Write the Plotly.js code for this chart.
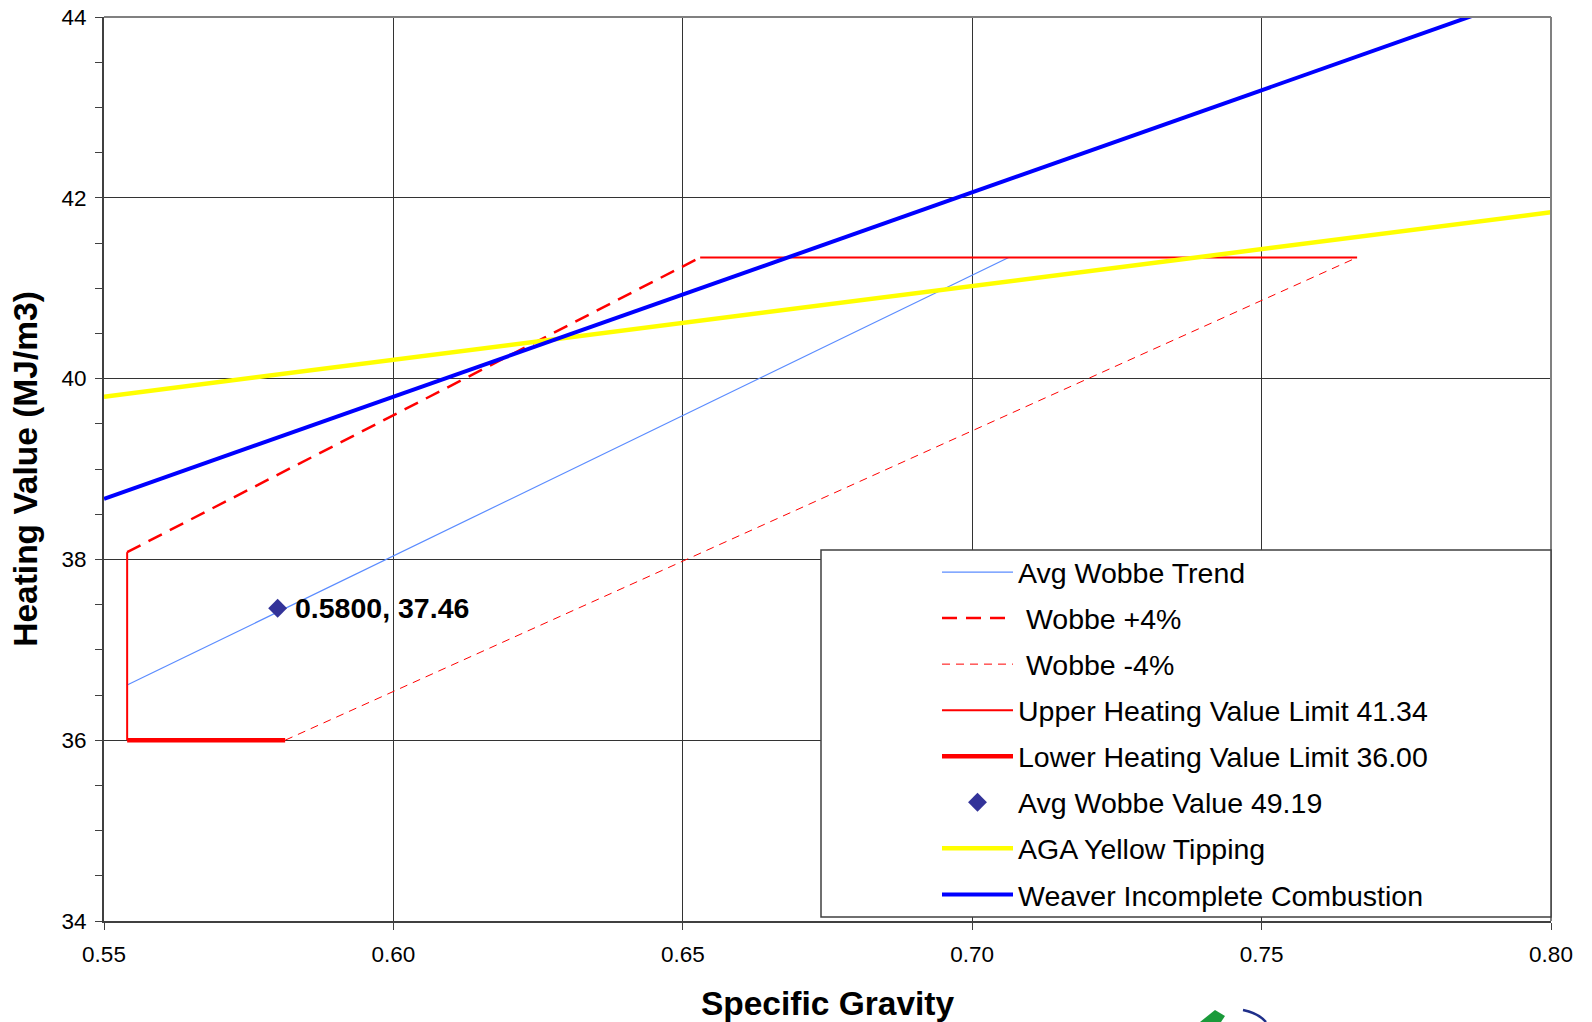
<!DOCTYPE html>
<html>
<head>
<meta charset="utf-8">
<script src="https://cdn.plot.ly/plotly-3.0.1.min.js"></script>
<style>html,body{margin:0;padding:0;background:#fff;}#chart{width:1592px;height:1022px;}</style>
</head>
<body>
<div id="chart"></div>
<script>
// ---- data ----
const trendSG = [0.554, 0.7063];
const trendHV = [36.61, 41.34];
const plusSG = [0.554, 0.653];
const plusHV = [38.08, 41.34];
const minusSG = [0.5813, 0.7665];
const minusHV = [36.00, 41.34];
const upperSG = [0.653, 0.7665];
const upperHV = [41.34, 41.34];
const sideSG = [0.554, 0.554];
const sideHV = [36.00, 38.08];
const lowerSG = [0.554, 0.5813];
const lowerHV = [36.00, 36.00];
const avgSG = [0.58];
const avgHV = [37.46];
const agaSG = [0.55, 0.80];
const agaHV = [39.80, 41.84];
const weaverSG = [0.55, 0.7907];
const weaverHV = [38.67, 44.11];
const xTicks = [0.55, 0.60, 0.65, 0.70, 0.75, 0.80];
const xTickText = ["0.55", "0.60", "0.65", "0.70", "0.75", "0.80"];
const yTicks = [34, 36, 38, 40, 42, 44];
const names = ["Avg Wobbe Trend", " Wobbe +4%", " Wobbe -4%", "Upper Heating Value Limit 41.34",
               "Lower Heating Value Limit 36.00", "Avg Wobbe Value 49.19", "AGA Yellow Tipping",
               "Weaver Incomplete Combustion"];

const F = '"Liberation Sans", Arial, sans-serif';

const traces = [
  {x: trendSG, y: trendHV, name: names[0], mode: 'lines', line: {color: '#5B8CFF', width: 1.2}, legendgroup: 'a'},
  {x: plusSG, y: plusHV, name: names[1], mode: 'lines', line: {color: '#FF0000', width: 2.5, dash: '15px,9px'}, legendgroup: 'b'},
  {x: minusSG, y: minusHV, name: names[2], mode: 'lines', line: {color: '#FF0000', width: 1, dash: '8px,6px'}, legendgroup: 'c'},
  {x: upperSG, y: upperHV, name: names[3], mode: 'lines', line: {color: '#FF0000', width: 2}, legendgroup: 'd'},
  {x: sideSG, y: sideHV, name: 'side', mode: 'lines', line: {color: '#FF0000', width: 2}, showlegend: false, legendgroup: 'd'},
  {x: lowerSG, y: lowerHV, name: names[4], mode: 'lines', line: {color: '#FF0000', width: 4.5}, legendgroup: 'e'},
  {x: avgSG, y: avgHV, name: names[5], mode: 'markers', marker: {symbol: 'diamond', color: '#333399', size: 14.5}, legendgroup: 'f'},
  {x: agaSG, y: agaHV, name: names[6], mode: 'lines', line: {color: '#FFFF00', width: 4.5}, legendgroup: 'g'},
  {x: weaverSG, y: weaverHV, name: names[7], mode: 'lines', line: {color: '#0000FF', width: 4}, legendgroup: 'h'}
];

const px = (p) => (p - 104) / 1447;       // pixel -> paper x
const py = (p) => (921 - p) / 904;        // pixel -> paper y

const layout = {
  width: 1592, height: 1022,
  margin: {l: 104, r: 41, t: 17, b: 101, pad: 0},
  paper_bgcolor: '#ffffff', plot_bgcolor: '#ffffff',
  font: {family: F, color: '#000'},
  showlegend: true,
  legend: {
    x: px(937), y: py(547), xanchor: 'left', yanchor: 'top',
    bgcolor: 'rgba(0,0,0,0)', borderwidth: 0,
    font: {family: F, size: 28.5, color: '#000'},
    itemwidth: 71, tracegroupgap: 6, traceorder: 'grouped'
  },
  xaxis: {
    range: [0.55, 0.80], tickmode: 'array', tickvals: xTicks, ticktext: xTickText,
    showgrid: true, gridcolor: '#333333', gridwidth: 1, zeroline: false,
    showline: true, linecolor: '#404040', linewidth: 2,
    ticks: 'outside', ticklen: 7, tickcolor: '#404040', tickwidth: 1,
    tickfont: {family: F, size: 22.5, color: '#000'}, ticklabelstandoff: 5,
    title: {text: '<b>Specific Gravity</b>', font: {family: F, size: 33.5, color: '#000'}, standoff: 28},
    automargin: false
  },
  yaxis: {
    range: [34, 44], tickmode: 'array', tickvals: yTicks,
    showgrid: true, gridcolor: '#333333', gridwidth: 1, zeroline: false,
    showline: true, linecolor: '#404040', linewidth: 2,
    ticks: 'outside', ticklen: 7, tickcolor: '#404040', tickwidth: 1,
    minor: {dtick: 0.5, ticks: 'outside', ticklen: 7, tickcolor: '#404040', showgrid: false},
    tickfont: {family: F, size: 22.5, color: '#000'}, ticklabelstandoff: 4,
    title: {text: '<b>Heating Value (MJ/m3)</b>', font: {family: F, size: 33.5, color: '#000'}, standoff: 14},
    automargin: false
  },
  annotations: [{
    x: avgSG[0], y: avgHV[0], xref: 'x', yref: 'y', xanchor: 'left', yanchor: 'middle',
    text: '<b>' + avgSG[0].toFixed(4) + ', ' + avgHV[0].toFixed(2) + '</b>',
    showarrow: false, xshift: 15, font: {family: F, size: 28.5, color: '#000'}
  }],
  shapes: [
    // plot frame top/right
    {type: 'line', xref: 'paper', yref: 'paper', x0: 0, x1: 1, y0: 1, y1: 1, line: {color: '#808080', width: 2}},
    {type: 'line', xref: 'paper', yref: 'paper', x0: 1, x1: 1, y0: 0, y1: 1, line: {color: '#808080', width: 2}},
    // legend box
    {type: 'rect', xref: 'paper', yref: 'paper', x0: px(821), x1: 1, y0: py(917), y1: py(550),
     fillcolor: '#ffffff', line: {color: '#404040', width: 1.5}, layer: 'above'},
    // partial logo at bottom
    {type: 'path', xref: 'paper', yref: 'paper',
     path: `M ${px(1200)} ${py(1022)} L ${px(1215)} ${py(1010)} L ${px(1225)} ${py(1016)} L ${px(1221)} ${py(1022)} Z`,
     fillcolor: '#1a9a3a', line: {width: 0}},
    {type: 'path', xref: 'paper', yref: 'paper',
     path: `M ${px(1243)} ${py(1010)} Q ${px(1258)} ${py(1013)} ${px(1266)} ${py(1022)}`,
     line: {color: '#1f2f8a', width: 2.5}}
  ]
};

Plotly.newPlot('chart', traces, layout, {displayModeBar: false, staticPlot: true});
</script>
</body>
</html>
